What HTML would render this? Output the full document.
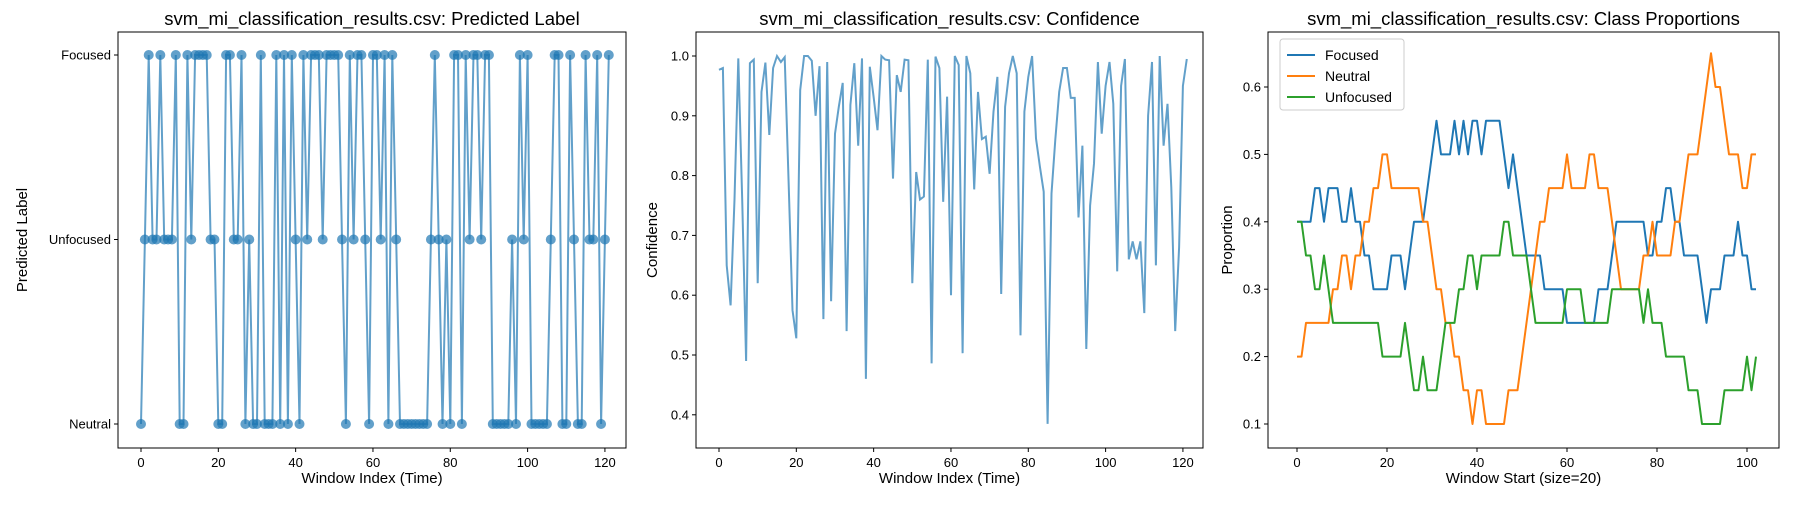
<!DOCTYPE html>
<html><head><meta charset="utf-8"><style>
body{margin:0;background:#fff;}
svg text{font-family:"Liberation Sans","DejaVu Sans",sans-serif;fill:#000;}
</style></head><body>
<svg id="fig" width="1800" height="500" xmlns="http://www.w3.org/2000/svg"></svg>
<script>
// Panel 1: predicted labels (0=Neutral,1=Unfocused,2=Focused)
const labelNames = ["Neutral","Unfocused","Focused"];
const predicted = [0,1,2,1,1,2,1,1,1,2,0,0,2,1,2,2,2,2,1,1,0,0,2,2,1,1,2,0,1,0,0,2,0,0,0,2,0,2,0,2,1,0,2,1,2,2,2,1,2,2,2,2,1,0,2,1,2,2,1,0,2,2,1,2,0,2,1,0,0,0,0,0,0,0,0,1,2,1,0,1,0,2,2,0,2,1,2,2,1,2,2,0,0,0,0,0,1,0,2,1,2,0,0,0,0,0,1,2,2,0,0,2,1,0,0,2,1,1,2,0,1,2];
// Panel 2: confidence
const confidence = [0.977,0.98,0.65,0.583,0.76,0.996,0.76,0.49,0.988,0.994,0.62,0.94,0.989,0.868,0.98,1.0,0.99,0.998,0.79,0.575,0.528,0.943,1.0,1.0,0.992,0.9,0.983,0.56,0.99,0.59,0.87,0.915,0.955,0.54,0.918,0.988,0.85,0.996,0.46,0.982,0.932,0.876,1.0,0.994,0.993,0.795,0.968,0.94,0.994,0.993,0.62,0.806,0.76,0.765,0.994,0.486,0.999,0.98,0.756,0.932,0.6,1.0,0.985,0.503,1.0,0.971,0.777,0.94,0.861,0.865,0.803,0.907,0.965,0.602,0.915,0.971,1.0,0.971,0.533,0.907,0.965,1.0,0.862,0.815,0.773,0.385,0.77,0.86,0.94,0.98,0.98,0.93,0.93,0.73,0.85,0.51,0.75,0.82,0.99,0.87,0.95,0.99,0.92,0.64,0.95,0.995,0.66,0.69,0.66,0.69,0.57,0.9,0.99,0.65,1.0,0.85,0.92,0.78,0.54,0.68,0.95,0.995];
// Panel 3: class proportions
const propFocused = [0.4,0.4,0.4,0.4,0.45,0.45,0.4,0.45,0.45,0.45,0.4,0.4,0.45,0.4,0.4,0.35,0.35,0.3,0.3,0.3,0.3,0.35,0.35,0.35,0.3,0.35,0.4,0.4,0.4,0.45,0.5,0.55,0.5,0.5,0.5,0.55,0.5,0.55,0.5,0.55,0.55,0.5,0.55,0.55,0.55,0.55,0.5,0.45,0.5,0.45,0.4,0.35,0.35,0.35,0.35,0.3,0.3,0.3,0.3,0.3,0.25,0.25,0.25,0.25,0.25,0.25,0.25,0.3,0.3,0.3,0.35,0.4,0.4,0.4,0.4,0.4,0.4,0.4,0.35,0.35,0.4,0.4,0.45,0.45,0.4,0.4,0.35,0.35,0.35,0.35,0.3,0.25,0.3,0.3,0.3,0.35,0.35,0.35,0.4,0.35,0.35,0.3,0.3];
const propNeutral = [0.2,0.2,0.25,0.25,0.25,0.25,0.25,0.25,0.3,0.3,0.35,0.35,0.3,0.35,0.35,0.4,0.4,0.45,0.45,0.5,0.5,0.45,0.45,0.45,0.45,0.45,0.45,0.45,0.4,0.4,0.35,0.3,0.3,0.25,0.25,0.2,0.2,0.15,0.15,0.1,0.15,0.15,0.1,0.1,0.1,0.1,0.1,0.15,0.15,0.15,0.2,0.25,0.3,0.35,0.4,0.4,0.45,0.45,0.45,0.45,0.5,0.45,0.45,0.45,0.45,0.5,0.5,0.45,0.45,0.45,0.4,0.35,0.3,0.3,0.3,0.3,0.3,0.35,0.35,0.4,0.35,0.35,0.35,0.35,0.4,0.4,0.45,0.5,0.5,0.5,0.55,0.6,0.65,0.6,0.6,0.55,0.5,0.5,0.5,0.45,0.45,0.5,0.5];
const propUnfocused = [0.4,0.4,0.35,0.35,0.3,0.3,0.35,0.3,0.25,0.25,0.25,0.25,0.25,0.25,0.25,0.25,0.25,0.25,0.25,0.2,0.2,0.2,0.2,0.2,0.25,0.2,0.15,0.15,0.2,0.15,0.15,0.15,0.2,0.25,0.25,0.25,0.3,0.3,0.35,0.35,0.3,0.35,0.35,0.35,0.35,0.35,0.4,0.4,0.35,0.35,0.35,0.35,0.3,0.25,0.25,0.25,0.25,0.25,0.25,0.25,0.3,0.3,0.3,0.3,0.25,0.25,0.25,0.25,0.25,0.25,0.3,0.3,0.3,0.3,0.3,0.3,0.3,0.25,0.3,0.25,0.25,0.25,0.2,0.2,0.2,0.2,0.2,0.15,0.15,0.15,0.1,0.1,0.1,0.1,0.1,0.15,0.15,0.15,0.15,0.15,0.2,0.15,0.2];
const xTicks12 = [0,20,40,60,80,100,120];
const confTicks = [0.4,0.5,0.6,0.7,0.8,0.9,1.0];
const xTicks3 = [0,20,40,60,80,100];
const propTicks = [0.1,0.2,0.3,0.4,0.5,0.6];

const NS="http://www.w3.org/2000/svg";
const svg=document.getElementById('fig');
function mk(tag,attrs,parent){const e=document.createElementNS(NS,tag);for(const k in attrs)e.setAttribute(k,attrs[k]);(parent||svg).appendChild(e);return e;}
function txt(s,x,y,anchor,size,parent,rot){const t=mk('text',{x:x,y:y,'text-anchor':anchor,'font-size':size},parent);if(rot)t.setAttribute('transform','rotate(-90 '+x+' '+y+')');t.textContent=s;return t;}

const TOP=32,BOT=448;
function axesFrame(g,L,R,title,xlabel,ylabel,ylx){
  const f=mk('rect',{x:L,y:TOP,width:R-L,height:BOT-TOP,fill:'none',stroke:'#000','stroke-width':1},g);
  
  
  const t=txt(title,(L+R)/2,25,'middle',18.5,g);
  
  
  const xl=txt(xlabel,(L+R)/2,483,'middle',15,g);
  
  
  const yl=txt(ylabel,ylx,(TOP+BOT)/2,'middle',15,g,true);
  
  
}
function xTickDraw(g,ticks,sx){ticks.forEach(v=>{const x=sx(v);mk('line',{x1:x,y1:BOT,x2:x,y2:BOT+4,stroke:'#000'},g);const t=txt(String(v),x,BOT+19,'middle',13,g);});}
function yTickDraw(g,ticks,sy,L,fmt){ticks.forEach(v=>{const y=sy(v);mk('line',{x1:L-4,y1:y,x2:L,y2:y,stroke:'#000'},g);const t=txt(fmt(v),L-7,y+4.5,'end',13,g);});}

// Panel 1
{
  const g=mk('g',{});
  
  
  const L=118,R=626;
  const sx=v=>141+v*3.866, sy=v=>424-v*184.5;
  axesFrame(g,L,R,'svm_mi_classification_results.csv: Predicted Label','Window Index (Time)','Predicted Label',27);
  xTickDraw(g,xTicks12,sx);
  yTickDraw(g,[0,1,2],sy,L,v=>labelNames[v]);
  const pts=predicted.map((v,i)=>sx(i).toFixed(1)+','+sy(v).toFixed(1)).join(' ');
  const pl=mk('polyline',{points:pts,fill:'none',stroke:'#1f77b4','stroke-opacity':0.7,'stroke-width':2},g);
  
  
  predicted.forEach((v,i)=>{const c=mk('circle',{cx:sx(i),cy:sy(v),r:5,fill:'#1f77b4','fill-opacity':0.7},g);
    
    });
}
// Panel 2
{
  const g=mk('g',{});
  
  
  const L=696,R=1203;
  const sx=v=>719+v*3.866, sy=v=>56+(1.0-v)*598;
  axesFrame(g,L,R,'svm_mi_classification_results.csv: Confidence','Window Index (Time)','Confidence',657);
  xTickDraw(g,xTicks12,sx);
  yTickDraw(g,confTicks,sy,L,v=>v.toFixed(1));
  const pts=confidence.map((v,i)=>sx(i).toFixed(1)+','+sy(v).toFixed(1)).join(' ');
  const pl=mk('polyline',{points:pts,fill:'none',stroke:'#1f77b4','stroke-opacity':0.7,'stroke-width':2},g);
  
  
}
// Panel 3
{
  const g=mk('g',{});
  
  
  const L=1268,R=1779;
  const sx=v=>1297+v*4.5, sy=v=>424-(v-0.1)*674;
  axesFrame(g,L,R,'svm_mi_classification_results.csv: Class Proportions','Window Start (size=20)','Proportion',1232);
  xTickDraw(g,xTicks3,sx);
  yTickDraw(g,propTicks,sy,L,v=>v.toFixed(1));
  const series=[[propFocused,'#1f77b4','Focused'],[propNeutral,'#ff7f0e','Neutral'],[propUnfocused,'#2ca02c','Unfocused']];
  series.forEach(s=>{
    const pts=s[0].map((v,i)=>sx(i).toFixed(1)+','+sy(v).toFixed(1)).join(' ');
    const pl=mk('polyline',{points:pts,fill:'none',stroke:s[1],'stroke-width':2,'stroke-linejoin':'round'},g);
    
    
  });
  const lg=mk('g',{},g);
  
  
  mk('rect',{x:1280,y:39,width:124,height:71,rx:3,fill:'#fff','fill-opacity':0.8,stroke:'#ccc'},lg);
  series.forEach((s,k)=>{
    const y=55+k*21;
    mk('line',{x1:1287,y1:y,x2:1315,y2:y,stroke:s[1],'stroke-width':2},lg);
    const t=txt(s[2],1325,y+5,'start',14,lg);
    
    
  });
}
</script>
</body></html>
